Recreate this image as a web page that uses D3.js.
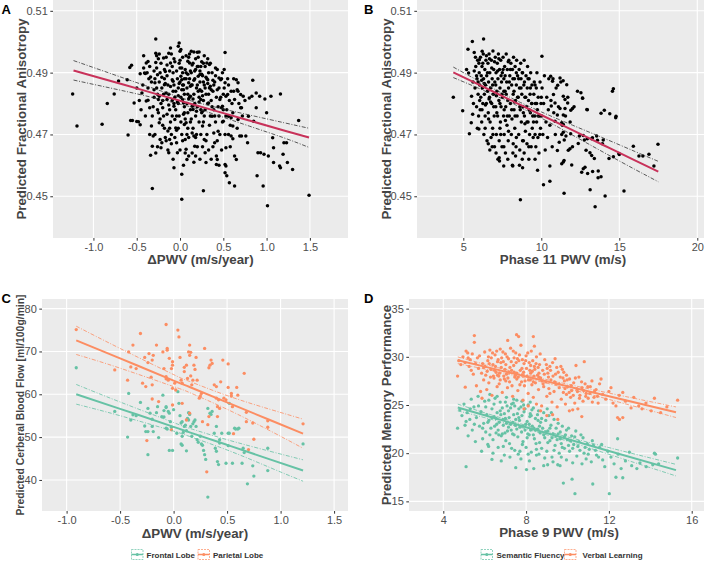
<!DOCTYPE html>
<html><head><meta charset="utf-8">
<script src="https://cdn.jsdelivr.net/npm/d3@7"></script>
<style>body{margin:0;background:#fff;}svg{display:block;}</style>
</head><body>
<svg id="chart" width="712" height="561"></svg>
<script>
// ---------------- DATA ----------------
// Panel A: ΔPWV (m/s/year) vs predicted FA
const pointsA = [[-1.24,.4831],[-1.19,.4727],[-0.90,.4733],[-0.84,.4800],[-0.76,.4831],[-0.71,.4873],[-0.60,.4698],[-0.58,.4917],[-0.56,.4924],[-0.61,.4877],[-0.53,.4802],[-0.55,.4745],[-0.50,.4742],[-0.48,.4741],[-0.46,.4896],[-0.42,.4915],[-0.44,.4834],[-0.42,.4955],[-0.57,.4745],[-0.46,.4731],[-0.41,.4899],[-0.40,.4897],[-0.39,.4931],[-0.37,.4936],[-0.36,.4880],[-0.34,.4886],[-0.37,.4811],[-0.39,.4808],[-0.35,.4786],[-0.33,.4727],[-0.34,.4633],[-0.32,.4525],[-0.31,.4695],[-0.32,.4662],[-0.30,.4845],[-0.29,.4867],[-0.28,.4933],[-0.28,.4963],[-0.28,.5009],[-0.27,.4915],[-0.26,.4893],[-0.25,.4813],[-0.24,.4824],[-0.25,.4770],[-0.24,.4738],[-0.23,.4684],[-0.22,.4657],[-0.21,.4673],[-0.20,.4786],[-0.19,.4947],[-0.18,.4910],[-0.17,.4904],[-0.18,.4861],[-0.16,.4834],[-0.15,.4813],[-0.15,.4765],[-0.14,.4711],[-0.13,.4641],[-0.12,.4684],[-0.11,.4980],[-0.13,.4963],[-0.11,.4931],[-0.09,.4877],[-0.08,.4872],[-0.08,.4840],[-0.07,.4791],[-0.07,.4800],[-0.06,.4748],[-0.05,.4721],[-0.04,.4714],[-0.07,.4592],[-0.04,.4673],[-0.03,.4641],[-0.02,.4985],[-0.01,.4996],[0.00,.4969],[0.00,.4915],[0.01,.4888],[0.02,.4877],[0.02,.4845],[0.03,.4813],[0.04,.4802],[0.04,.4765],[0.05,.4732],[0.07,.4738],[0.02,.4571],[0.02,.4490],[0.06,.4684],[0.07,.4652],[0.08,.4619],[0.09,.4937],[0.11,.4931],[0.10,.4867],[0.12,.4856],[0.12,.4824],[0.14,.4791],[0.15,.4781],[0.14,.4705],[0.16,.4695],[0.17,.4662],[0.18,.4630],[0.13,.4969],[0.16,.4967],[0.20,.4966],[0.22,.4967],[0.20,.4920],[0.21,.4888],[0.23,.4894],[0.21,.4840],[0.24,.4813],[0.25,.4770],[0.26,.4775],[0.27,.4518],[0.26,.4727],[0.28,.4684],[0.29,.4641],[0.30,.4609],[0.31,.4931],[0.34,.4926],[0.32,.4877],[0.35,.4856],[0.36,.4845],[0.33,.4802],[0.37,.4759],[0.39,.4705],[0.40,.4673],[0.42,.4630],[0.43,.4619],[0.42,.4603],[0.41,.4915],[0.43,.4910],[0.45,.4883],[0.47,.4877],[0.46,.4813],[0.48,.4786],[0.49,.4791],[0.52,.4965],[0.51,.4910],[0.52,.4867],[0.53,.4824],[0.55,.4829],[0.50,.4743],[0.52,.4700],[0.53,.4657],[0.52,.4603],[0.53,.4598],[0.52,.4576],[0.54,.4566],[0.57,.4544],[0.63,.4533],[0.56,.4759],[0.59,.4754],[0.61,.4727],[0.59,.4695],[0.61,.4686],[0.63,.4630],[0.65,.4619],[0.65,.4877],[0.67,.4867],[0.66,.4845],[0.67,.4840],[0.63,.4813],[0.70,.4829],[0.73,.4824],[0.70,.4786],[0.71,.4786],[0.67,.4748],[0.69,.4695],[0.71,.4695],[0.76,.4695],[0.78,.4673],[0.80,.4818],[0.83,.4824],[0.79,.4759],[0.84,.4875],[0.85,.4743],[0.88,.4786],[0.88,.4834],[0.92,.4824],[0.98,.4815],[0.90,.4641],[0.93,.4641],[0.97,.4636],[0.89,.4566],[0.96,.4533],[1.00,.4770],[1.02,.4630],[1.01,.4469],[1.05,.4824],[1.07,.4689],[1.08,.4657],[1.08,.4609],[1.15,.4598],[1.16,.4592],[1.16,.4831],[1.19,.4636],[1.20,.4673],[1.24,.4609],[1.30,.4587],[1.37,.4745],[1.49,.4503],[1.23,.4673],
[-0.30,.4905],[-0.29,.4880],[-0.27,.4850],[-0.26,.4830],[-0.24,.4870],[-0.23,.4900],[-0.22,.4930],[-0.21,.4850],[-0.20,.4810],[-0.19,.4760],[-0.18,.4720],[-0.17,.4690],[-0.16,.4950],[-0.15,.4890],[-0.14,.4860],[-0.13,.4830],[-0.12,.4780],[-0.11,.4740],[-0.10,.4700],[-0.10,.4960],[-0.09,.4920],[-0.08,.4900],[-0.07,.4860],[-0.06,.4820],[-0.05,.4780],[-0.04,.4760],[-0.03,.4880],[-0.02,.4850],[-0.02,.4800],[-0.01,.4760],[-0.01,.4930],[0.00,.4870],[0.01,.4820],[0.01,.4740],[0.02,.4700],[0.03,.4950],[0.03,.4900],[0.04,.4860],[0.05,.4830],[0.05,.4790],[0.06,.4750],[0.06,.4910],[0.07,.4880],[0.08,.4850],[0.08,.4800],[0.09,.4770],[0.09,.4720],[0.10,.4950],[0.10,.4690],[0.11,.4820],[0.12,.4780],[0.13,.4900],[0.13,.4750],[0.14,.4860],[0.15,.4930],[0.15,.4720],[0.16,.4830],[0.17,.4800],[0.17,.4880],[0.18,.4760],[0.18,.4910],[0.19,.4850],[0.19,.4700],[0.20,.4790],[0.21,.4950],[0.22,.4820],[0.22,.4740],[0.23,.4870],[0.24,.4780],[0.24,.4920],[0.25,.4840],[0.26,.4890],[0.27,.4810],[0.27,.4740],[0.28,.4860],[0.29,.4920],[0.29,.4780],[0.30,.4830],[0.31,.4700],[0.32,.4800],[0.33,.4900],[0.34,.4850],[0.35,.4760],[0.36,.4810],[0.37,.4900],[0.38,.4840],[0.39,.4780],[0.40,.4870],[0.41,.4740],[0.42,.4820],[0.44,.4790],[0.45,.4850],[0.46,.4700],[0.48,.4880],[0.49,.4740],[0.50,.4830],[0.54,.4780],[0.56,.4860],[0.58,.4730],[0.60,.4800],[0.62,.4880],[-0.37,.4850],[-0.35,.4920],[-0.33,.4870],[-0.32,.4760],[-0.31,.4790],[-0.29,.4700],[-0.28,.4640],[-0.26,.4660],[-0.24,.4960],[-0.22,.4800],[-0.14,.4650],[-0.08,.4620],[0.00,.4650],[0.04,.4600],[0.10,.4630],[0.14,.4640],[0.20,.4660],[0.23,.4620],[0.33,.4650],[0.36,.4620],[0.43,.4680],[0.45,.4600],
[-0.12,.4905],[-0.06,.4935],[-0.04,.4905],[0.00,.4940],[0.02,.4915],[0.05,.4880],[0.07,.4955],[0.09,.4895],[0.11,.4880],[0.12,.4905],[0.14,.4925],[0.16,.4875],[0.18,.4945],[0.20,.4860],[0.23,.4905],[0.25,.4935],[0.27,.4870],[0.28,.4955],[0.30,.4885],[0.32,.4945],[-0.02,.4825],[0.04,.4845],[0.10,.4815],[0.16,.4795],[0.22,.4805],[0.26,.4825],[0.32,.4865],[0.38,.4875],[-0.09,.4810],[-0.18,.4880],
[-0.27,.4955],[-0.25,.4945],[-0.21,.4885],[-0.19,.4830],[-0.17,.4865],[-0.15,.4925],[-0.13,.4795],[-0.11,.4855],[-0.09,.4760],[-0.07,.4945],[-0.05,.4840],[-0.03,.4805],[-0.01,.4865],[0.01,.4975],[0.03,.4860],[0.05,.4770],[0.07,.4900],[0.09,.4830],[0.11,.4960],[0.13,.4860],[0.15,.4815],[0.17,.4905],[0.19,.4775],[0.21,.4920],[0.23,.4845],[0.25,.4895],[0.27,.4930],[0.29,.4850],[0.31,.4880],[0.33,.4830],[0.35,.4930],[0.37,.4790],[0.39,.4860],[0.41,.4890],[0.43,.4845],[0.45,.4760],[0.47,.4820],[0.49,.4900],[0.51,.4850],[0.53,.4760],[0.55,.4880],[0.57,.4810],[0.59,.4840],[0.61,.4770],[-0.20,.4730],[-0.16,.4680],[-0.12,.4720],[-0.06,.4690],[-0.02,.4720],[0.03,.4680],[0.08,.4700],[0.12,.4740],[0.18,.4690],[0.24,.4700],[0.28,.4760],[0.34,.4730],[0.40,.4760],[0.44,.4710],[0.50,.4780],[0.56,.4700],[-0.35,.4700],[-0.30,.4820],[-0.26,.4780],[-0.23,.4750],[-0.10,.4670],[0.06,.4640],[0.16,.4610],[0.26,.4660],[0.30,.4680],[0.38,.4660],[0.48,.4650],[0.58,.4660],[0.66,.4720],[0.72,.4760],[0.75,.4810],[0.68,.4800],[0.62,.4840],[-0.45,.4780],[-0.43,.4860],[-0.40,.4760],[-0.38,.4900],[-0.50,.4850],[-0.47,.4810]];
const fitXA  = [-1.23, -0.8, -0.4, 0.0, 0.15, 0.4, 0.8, 1.2, 1.49];
const fitA   = [0.4907, 0.4873, 0.4841, 0.4809, 0.4797, 0.4777, 0.4745, 0.4713, 0.4690];
const upperA = [0.4939, 0.4897, 0.4858, 0.4820, 0.4807, 0.4789, 0.4763, 0.4738, 0.4720];
const lowerA = [0.4876, 0.4850, 0.4825, 0.4798, 0.4787, 0.4765, 0.4727, 0.4689, 0.4658];

// Panel B: Phase 11 PWV (m/s) vs predicted FA
const pointsB = [[4.36,.4820],[4.96,.4777],[5.39,.4702],[5.30,.4976],[5.58,.5001],[6.30,.5009],[5.51,.4738],[5.60,.4765],[5.53,.4824],[5.21,.4910],[5.34,.4899],[6.00,.4718],[6.21,.4969],[6.03,.4942],[7.32,.4614],[7.30,.4625],[7.59,.4598],[8.17,.4598],[8.66,.4489],[8.80,.4592],[9.76,.4584],[10.14,.4537],[10.04,.4953],[10.55,.4549],[10.55,.4598],[11.46,.4510],[12.32,.4840],[12.64,.4818],[12.92,.4781],[13.13,.4521],[13.45,.4466],[13.64,.4560],[13.83,.4563],[14.09,.4501],[14.39,.4767],[14.56,.4840],[14.77,.4754],[14.98,.4638],[15.30,.4517],[15.90,.4662],[16.26,.4630],[16.51,.4630],[16.90,.4636],[17.22,.4598],[17.48,.4668],[13.28,.4689],[13.60,.4681],[13.92,.4670],[14.34,.4622],
[12.59,.4578],[12.69,.4589],[12.80,.4594],[12.97,.4574],[13.29,.4580],[13.65,.4582],[11.31,.4605],[11.41,.4611],[11.46,.4616],[11.95,.4601],[11.03,.4648],[11.73,.4649],[11.84,.4654],[12.87,.4649],[13.12,.4641],[13.23,.4632],[13.40,.4622],[14.62,.4628],[15.00,.4635],[11.15,.4675],[11.47,.4682],[11.58,.4695],[11.31,.4700],[11.41,.4707],[11.88,.4702],[12.37,.4671],[12.44,.4695],[12.69,.4697],[12.76,.4682],[12.95,.4686],[13.23,.4686],[13.55,.4695],[13.97,.4682],[10.88,.4743],[11.31,.4738],[11.41,.4732],
[10.60,.4888],[10.72,.4872],[11.20,.4883],[11.40,.4874],[11.05,.4859],[11.63,.4861],[10.78,.4829],[11.41,.4824],[11.52,.4813],[10.88,.4802],[10.64,.4792],[11.69,.4802],[11.20,.4784],[11.52,.4784],[12.00,.4784],[11.89,.4778],[12.95,.4780],[12.54,.4835],[12.65,.4817],[13.83,.4769],[14.04,.4778],[14.62,.4848],[14.79,.4759],[11.41,.4763],[11.03,.4763],
[5.62,.4870],[5.70,.4905],[5.75,.4850],[5.80,.4920],[5.85,.4790],[5.88,.4880],[5.92,.4940],[5.95,.4830],[5.98,.4760],[5.65,.4800],[5.78,.4950],[5.90,.4720],
[6.02,.4900],[6.05,.4860],[6.08,.4780],[6.10,.4950],[6.12,.4820],[6.15,.4890],[6.18,.4740],[6.20,.4920],[6.22,.4850],[6.25,.4800],[6.28,.4960],[6.30,.4880],[6.32,.4700],[6.35,.4830],[6.38,.4910],[6.40,.4760],[6.42,.4860],[6.45,.4940],[6.48,.4800],[6.50,.4890],
[6.52,.4680],[6.55,.4840],[6.58,.4930],[6.60,.4770],[6.62,.4870],[6.65,.4960],[6.68,.4820],[6.70,.4900],[6.72,.4740],[6.75,.4850],[6.78,.4690],[6.80,.4940],[6.82,.4800],[6.85,.4880],[6.88,.4720],[6.90,.4970],[6.92,.4830],[6.95,.4910],[6.98,.4760],[6.60,.4670],[6.70,.4650],[6.85,.4660],
[7.02,.4870],[7.05,.4950],[7.08,.4790],[7.10,.4900],[7.12,.4700],[7.15,.4840],[7.18,.4930],[7.20,.4760],[7.22,.4880],[7.25,.4960],[7.28,.4810],[7.30,.4680],[7.32,.4910],[7.35,.4850],[7.38,.4740],[7.40,.4940],[7.42,.4790],[7.45,.4870],[7.48,.4660],[7.50,.4900],[7.10,.4640],[7.22,.4620],[7.35,.4720],
[7.52,.4820],[7.55,.4950],[7.58,.4760],[7.60,.4880],[7.62,.4700],[7.65,.4920],[7.68,.4840],[7.70,.4640],[7.72,.4790],[7.75,.4960],[7.78,.4870],[7.80,.4730],[7.82,.4910],[7.85,.4810],[7.88,.4680],[7.90,.4850],[7.92,.4940],[7.95,.4760],[7.98,.4890],[7.60,.4840],[7.85,.4620],
[8.02,.4800],[8.05,.4930],[8.08,.4700],[8.10,.4860],[8.12,.4750],[8.15,.4910],[8.18,.4640],[8.20,.4830],[8.22,.4950],[8.25,.4780],[8.28,.4880],[8.30,.4720],[8.32,.4920],[8.35,.4810],[8.38,.4660],[8.40,.4860],[8.42,.4940],[8.45,.4760],[8.48,.4890],[8.15,.4600],[8.35,.4630],
[8.52,.4820],[8.55,.4700],[8.58,.4910],[8.60,.4850],[8.62,.4650],[8.65,.4780],[8.68,.4930],[8.70,.4880],[8.72,.4740],[8.75,.4830],[8.78,.4620],[8.80,.4900],[8.82,.4790],[8.85,.4680],[8.88,.4860],[8.90,.4940],[8.92,.4760],[8.95,.4820],[8.98,.4710],[8.60,.4600],[8.90,.4640],
[9.02,.4890],[9.05,.4790],[9.08,.4670],[9.10,.4850],[9.12,.4920],[9.15,.4740],[9.18,.4810],[9.20,.4620],[9.22,.4880],[9.25,.4700],[9.28,.4830],[9.30,.4770],[9.32,.4900],[9.35,.4660],[9.38,.4800],[9.40,.4860],[9.42,.4720],[9.45,.4760],[9.48,.4690],
[9.52,.4830],[9.55,.4870],[9.58,.4760],[9.60,.4700],[9.62,.4800],[9.65,.4660],[9.68,.4850],[9.70,.4740],[9.72,.4900],[9.75,.4780],[9.78,.4690],[9.80,.4820],[9.85,.4640],[9.88,.4760],[9.92,.4870],[9.95,.4720],[9.98,.4800],
[10.02,.4760],[10.05,.4850],[10.10,.4700],[10.15,.4800],[10.20,.4890],[10.25,.4650],[10.30,.4740],[10.35,.4820],[10.40,.4690],[10.45,.4780],[10.48,.4880],
[10.55,.4730],[10.62,.4810],[10.70,.4660],[10.75,.4880],[10.80,.4770],[10.90,.4700],[10.95,.4850],
[11.10,.4790],[11.25,.4870],[11.35,.4730],[11.55,.4760],[11.70,.4820],[11.85,.4740],[12.00,.4660],[12.10,.4790],
[5.70,.4965],[5.85,.4890],[6.00,.4930],[6.05,.4810],[6.18,.4875],[6.25,.4930],[6.35,.4865],[6.42,.4795],[6.48,.4955],[6.55,.4900],[6.62,.4750],[6.68,.4945],[6.75,.4805],[6.82,.4915],[6.88,.4860],[6.95,.4790],[7.00,.4935],[7.08,.4860],[7.15,.4770],[7.20,.4905],[7.28,.4945],[7.35,.4800],[7.42,.4890],[7.48,.4830],[7.55,.4910],[7.62,.4780],[7.68,.4890],[7.75,.4830],[7.82,.4760],[7.88,.4935],[7.95,.4870],[8.02,.4910],[8.10,.4780],[8.18,.4880],[8.25,.4840],[8.32,.4760],[8.40,.4900],[8.48,.4820],[8.55,.4880],[8.62,.4790],[8.70,.4850],[8.78,.4900],[8.85,.4770],[8.92,.4870],[9.00,.4820],[9.08,.4740],[9.15,.4880],[9.22,.4780],[9.30,.4850],[9.40,.4800],[9.50,.4740],[9.60,.4860],[9.70,.4800],[9.80,.4760],[9.90,.4700],[10.00,.4820],[6.40,.4720],[6.90,.4700],[7.40,.4700],[7.90,.4710],[8.40,.4690],[8.80,.4680],[9.20,.4660],[9.60,.4620],[7.00,.4660],[7.60,.4660],[8.20,.4670],[6.20,.4780],[5.95,.4870],[6.65,.4815],[7.12,.4825],[7.70,.4745],[8.28,.4805],[8.95,.4735]];
const fitXB  = [4.36, 6, 8, 8.6, 10, 12, 14, 16, 17.5];
const fitB   = [.4901, .4861, .4812, .4797, .4763, .4714, .4665, .4616, .4580];
const upperB = [.4918, .4873, .4820, .4805, .4773, .4730, .4688, .4645, .4613];
const lowerB = [.4884, .4849, .4804, .4789, .4753, .4698, .4642, .4587, .4547];

// Panel C: ΔPWV vs predicted cerebral blood flow
const lobeNames = ["Frontal Lobe", "Parietal Lobe"];
const pointsCParietal = [[-0.91,75.1],[-0.55,65.7],[-0.43,63.3],[-0.42,69.9],[-0.40,66.4],[-0.38,71.5],[-0.35,66.0],[-0.29,62.6],[-0.31,74.2],[-0.26,61.8],[-0.27,68.6],[-0.24,67.4],[-0.23,69.5],[-0.21,64.0],[-0.20,62.2],[-0.20,68.0],[-0.19,69.1],[-0.20,58.9],[-0.16,71.5],[-0.14,58.3],[-0.10,69.9],[-0.09,66.0],[-0.07,64.1],[-0.07,63.6],[-0.06,70.7],[-0.07,76.3],[-0.06,70.3],[-0.05,63.3],[-0.04,68.4],[-0.02,66.0],[-0.01,66.8],[-0.01,67.6],[-0.01,57.5],[-0.01,61.4],[0.01,62.6],[0.02,61.0],[0.04,75.0],[0.05,73.4],[0.06,68.6],[0.07,63.3],[0.08,62.6],[0.08,57.9],[0.10,65.3],[0.10,66.3],[0.12,66.8],[0.13,63.7],[0.14,69.9],[0.15,69.1],[0.16,69.8],[0.15,71.5],[0.16,64.3],[0.17,62.2],[0.18,63.3],[0.19,66.8],[0.20,65.8],[0.21,68.6],[0.22,63.3],[0.24,59.1],[0.25,59.6],[0.26,60.2],[0.29,70.7],[0.27,53.6],[0.31,41.9],[0.32,52.9],[0.33,54.8],[0.33,66.2],[0.34,66.8],[0.35,68.0],[0.36,67.2],[0.38,62.2],[0.40,61.8],[0.40,59.1],[0.42,58.7],[0.41,57.1],[0.43,56.7],[0.41,54.8],[0.44,62.9],[0.46,68.0],[0.47,59.1],[0.49,58.7],[0.51,61.6],[0.51,67.1],[0.54,60.2],[0.54,59.6],[0.55,57.1],[0.56,50.8],[0.59,61.6],[0.60,59.8],[0.68,55.8],[0.68,53.6],[0.66,64.9],[0.70,47.1],[0.74,53.3],[0.75,49.5],[0.88,53.8],[0.88,52.3],[1.21,53.1],[-0.25,49.2],[-0.02,51.7],[0.12,54.0],[0.15,55.6]];
const pointsCFrontal = [[-0.91,66.2],[-0.55,56.0],[-0.43,50.0],[-0.42,60.2],[-0.40,54.0],[-0.38,55.2],[-0.35,55.0],[-0.31,58.1],[-0.27,52.6],[-0.26,51.3],[-0.24,51.3],[-0.24,45.9],[-0.24,56.7],[-0.22,55.6],[-0.20,54.2],[-0.20,52.5],[-0.19,51.3],[-0.16,55.7],[-0.15,57.1],[-0.14,49.9],[-0.11,54.8],[-0.10,59.8],[-0.09,56.2],[-0.09,54.7],[-0.07,57.1],[-0.07,56.9],[-0.07,52.1],[-0.06,51.9],[-0.05,56.0],[-0.04,55.6],[-0.04,46.9],[-0.01,46.9],[-0.03,53.6],[-0.02,52.3],[0.00,56.4],[0.03,50.9],[0.04,60.6],[0.05,57.9],[0.06,55.0],[0.07,53.3],[0.08,53.6],[0.07,48.4],[0.08,48.1],[0.08,50.2],[0.09,51.1],[0.10,52.5],[0.11,52.8],[0.12,51.5],[0.12,46.8],[0.13,54.4],[0.14,54.0],[0.14,55.7],[0.15,55.3],[0.16,52.5],[0.17,50.2],[0.18,53.1],[0.19,53.6],[0.20,54.0],[0.21,52.5],[0.22,49.4],[0.23,48.8],[0.25,50.2],[0.26,48.4],[0.27,48.1],[0.28,46.9],[0.29,45.9],[0.30,44.8],[0.32,56.7],[0.32,36.0],[0.34,55.6],[0.35,55.3],[0.36,56.0],[0.38,50.9],[0.39,47.4],[0.40,46.7],[0.41,44.3],[0.42,43.6],[0.40,52.5],[0.43,48.6],[0.43,49.4],[0.45,50.9],[0.49,43.9],[0.51,50.9],[0.52,50.9],[0.51,48.0],[0.52,57.9],[0.55,43.9],[0.57,52.1],[0.58,51.9],[0.60,51.9],[0.61,52.1],[0.64,43.9],[0.65,47.4],[0.66,46.4],[0.69,39.1],[0.74,43.3],[0.75,40.9],[0.88,42.2],[0.88,47.4],[1.21,48.4]];
const fitXC = [-0.91, -0.5, 0, 0.15, 0.5, 0.9, 1.21];
const fitCParietal   = [72.6, 68.4, 63.2, 61.7, 58.1, 54.0, 50.8];
const upperCParietal = [75.9, 70.7, 64.6, 63.0, 59.7, 56.5, 54.2];
const lowerCParietal = [69.3, 66.1, 61.8, 60.4, 56.5, 51.5, 47.4];
const fitCFrontal    = [60.0, 56.6, 52.4, 51.1, 48.2, 44.8, 42.2];
const upperCFrontal  = [62.3, 58.2, 53.4, 52.05, 49.4, 46.7, 44.7];
const lowerCFrontal  = [57.7, 55.0, 51.4, 50.15, 47.0, 42.9, 39.7];

// Panel D: Phase 9 PWV vs predicted memory performance
const memoryNames = ["Semantic Fluency", "Verbal Learning"];
const pointsDVerbal = [[4.69,28.0],[5.10,30.6],[5.18,30.4],[5.06,26.85],[5.50,32.2],[5.50,31.5],[5.87,25.7],[7.54,32.3],[7.64,32.1],[8.35,32.1],[7.11,31.7],[8.40,31.1],[9.28,24.0],[9.53,23.5],[10.09,24.4],[10.25,24.5],[10.69,23.8],[10.41,29.1],[10.81,29.5],[12.10,26.8],[11.62,27.7],[12.34,24.9],[12.42,23.7],[12.51,23.5],[12.67,23.7],[12.67,26.3],[13.07,24.7],[13.44,24.9],[13.79,25.2],[14.04,24.4],[14.20,25.7],[15.32,25.5],
[4.75,29.6],[4.85,29.2],[4.95,30.0],[5.05,29.4],[5.25,29.0],[5.30,29.7],[5.35,28.6],[5.45,28.2],[5.60,27.0],[5.65,29.9],[5.70,28.8],[5.80,26.4],[5.90,29.3],[5.95,27.6],[6.00,30.5],[6.05,28.1],[6.10,26.6],[6.15,29.6],[6.20,27.3],[6.25,30.7],[6.30,28.7],[6.35,26.0],[6.40,29.2],[6.45,27.8],[6.50,30.2],[6.55,28.4],[6.60,26.9],[6.65,29.7],[6.70,27.2],[6.75,30.8],[6.80,28.9],[6.85,26.3],[6.90,29.5],[6.95,27.7],[7.00,30.3],[7.05,28.2],[7.10,26.8],[7.15,29.8],[7.20,27.4],[7.25,30.9],[7.30,28.6],[7.35,25.9],[7.40,29.1],[7.45,27.9],[7.50,30.4],[7.55,28.3],[7.60,26.5],[7.65,29.6],[7.70,27.1],[7.75,31.2],[7.80,28.8],[7.85,25.5],[7.90,29.3],[7.95,27.5],[8.00,30.1],[8.05,28.0],[8.10,26.2],[8.15,29.4],[8.20,27.6],[8.25,30.6],[8.30,28.5],[8.35,25.8],[8.40,29.0],[8.45,27.3],[8.50,30.0],[8.55,28.1],[8.60,26.6],[8.65,29.2],[8.70,27.8],[8.75,24.9],[8.80,28.6],[8.85,26.9],[8.90,29.7],[8.95,27.4],[9.00,25.9],[9.05,28.3],[9.10,26.7],[9.15,29.0],[9.20,27.6],[9.25,25.3],[9.30,28.0],[9.35,26.4],[9.40,29.8],[9.45,27.2],[9.50,24.8],[9.55,28.4],[9.60,26.8],[9.65,27.9],[9.70,25.6],[9.75,28.7],[9.80,26.3],[9.85,27.5],[9.90,25.1],[9.95,28.1],[10.00,26.9],[10.10,27.7],[10.15,25.8],[10.20,26.5],[10.30,27.3],[10.35,25.2],[10.45,26.7],[10.50,24.6],[10.55,27.9],[10.60,26.0],[10.70,26.8],[10.75,25.4],[10.85,27.2],[10.90,26.2],[11.00,25.7],[11.10,26.9],[11.20,25.3],[11.30,26.4],[11.45,25.9],[11.55,27.2],[11.70,26.1],[11.85,25.6],[12.00,26.4],[12.20,25.2],[12.50,26.0],[12.80,25.4],[13.20,25.8],[13.60,24.6],[14.50,24.2],[14.80,24.8],
[6.12,28.5],[6.32,29.9],[6.52,29.0],[6.72,28.3],[6.92,28.0],[7.02,29.2],[7.22,28.9],[7.42,28.4],[7.62,27.9],[7.82,29.7],[8.02,28.8],[8.22,28.3],[8.42,28.7],[8.62,27.9],[8.82,27.2],[7.12,27.8],[7.32,27.0],[7.52,29.4],[7.72,28.6],[7.92,27.0],[6.42,28.0],[6.62,28.1],[6.82,29.9],[8.12,27.6],[8.32,29.6],[7.90,24.6],[8.10,24.9],[8.50,25.1],[9.00,23.9],[8.70,24.4],
[5.20,29.9],[5.40,30.3],[5.55,29.3],[5.75,30.1],[5.85,28.3],[6.02,29.0],[6.18,30.0],[6.28,27.9],[6.38,30.4],[6.48,28.6],[6.58,30.6],[6.68,28.0],[6.78,29.4],[6.88,30.5],[6.98,28.7],[7.08,30.0],[7.18,28.4],[7.28,29.5],[7.38,30.6],[7.48,28.1],[7.58,29.8],[7.68,30.2],[7.78,27.4],[7.88,28.4],[7.98,29.6],[8.08,30.4],[8.18,28.6],[8.28,27.1],[8.38,28.0],[8.48,29.3],[8.58,28.9],[8.68,30.3],[8.78,27.5],[8.88,28.2],[8.98,29.2],[9.08,27.9],[9.18,28.6],[9.28,29.4],[9.38,27.4],[9.48,28.9],[9.58,27.2],[9.68,29.0],[9.78,27.8],[9.88,26.7],[9.98,27.6],[10.08,26.3],[10.18,27.0],[10.28,26.0],[10.38,27.8],[10.48,26.4],[10.58,25.7],[10.68,27.4],[10.78,26.5],[10.88,25.9],[10.98,26.9],[11.08,26.2],[11.18,27.5],[11.28,25.8],[11.38,26.6],[11.48,25.2],[6.22,29.3],[6.62,29.5],[7.02,27.5],[7.42,29.9],[7.82,28.1],[8.22,29.1],[8.62,28.3],[9.02,28.8],[9.42,28.2],[9.82,28.4],[5.95,28.9],[6.75,27.6],[7.55,27.7],[8.35,27.4],[9.15,26.2],[9.95,26.1]];
const pointsDSemantic = [[4.69,22.6],[5.10,18.6],[5.85,20.2],[6.19,20.7],[6.35,19.35],[9.80,16.9],[10.36,15.8],[11.22,16.8],[12.02,15.8],[10.22,17.3],[9.53,18.8],[9.64,18.7],[8.85,18.7],[9.04,18.8],[8.37,18.4],[8.16,19.2],[12.34,17.5],[12.67,17.45],[12.59,18.4],[13.35,18.4],[14.12,18.8],[14.20,20.0],[14.25,19.9],[15.32,19.5],[12.42,21.5],[12.99,20.1],
[4.80,24.5],[4.90,23.9],[5.00,25.1],[5.05,22.9],[5.15,24.2],[5.20,21.8],[5.28,23.5],[5.35,25.6],[5.40,22.4],[5.48,24.8],[5.55,21.2],[5.60,23.7],[5.68,25.9],[5.75,22.8],[5.82,24.3],[5.90,21.5],[5.95,23.1],[6.00,25.4],[6.05,22.2],[6.10,24.0],[6.15,20.9],[6.20,23.4],[6.25,26.1],[6.30,22.6],[6.35,24.6],[6.40,21.4],[6.45,23.8],[6.50,25.7],[6.55,22.1],[6.60,24.2],[6.65,20.6],[6.70,23.2],[6.75,25.3],[6.80,21.8],[6.85,24.7],[6.90,22.9],[6.95,19.8],[7.00,23.6],[7.05,25.8],[7.10,22.3],[7.15,24.4],[7.20,21.0],[7.25,23.0],[7.30,25.1],[7.35,22.0],[7.40,24.0],[7.45,20.3],[7.50,23.5],[7.55,25.5],[7.60,21.7],[7.65,24.6],[7.70,22.7],[7.75,19.4],[7.80,23.9],[7.85,21.2],[7.90,24.3],[7.95,22.4],[8.00,20.6],[8.05,23.3],[8.10,25.0],[8.15,21.9],[8.20,24.1],[8.25,20.1],[8.30,22.8],[8.35,24.7],[8.40,21.5],[8.45,23.6],[8.50,19.8],[8.55,22.5],[8.60,24.4],[8.65,21.1],[8.70,23.2],[8.75,20.5],[8.80,22.6],[8.85,24.2],[8.90,21.6],[8.95,23.4],[9.00,20.2],[9.05,22.3],[9.10,23.9],[9.15,21.3],[9.20,22.9],[9.25,19.6],[9.30,22.0],[9.35,23.5],[9.40,20.8],[9.45,22.6],[9.50,21.4],[9.55,23.1],[9.60,20.0],[9.65,22.2],[9.70,21.0],[9.75,22.8],[9.85,20.5],[9.90,21.9],[9.95,19.3],[10.00,21.4],[10.05,22.6],[10.10,20.2],[10.20,21.8],[10.25,19.0],[10.30,20.9],[10.40,22.3],[10.45,19.7],[10.55,21.2],[10.60,20.3],[10.70,18.9],[10.75,21.6],[10.80,20.0],[10.90,19.4],[10.95,21.0],[11.05,20.4],[11.15,19.1],[11.25,20.8],[11.40,19.8],[11.55,20.6],[11.70,19.3],[11.80,18.6],[11.95,20.2],[12.10,19.6],[12.25,18.9],[12.45,19.9],[12.80,19.2],[13.10,18.7],[13.50,19.0],[13.80,18.6],[14.40,18.9],
[6.58,23.0],[6.78,24.0],[6.98,22.1],[7.08,24.9],[7.18,23.7],[7.28,22.4],[7.38,25.2],[7.48,22.9],[7.58,24.1],[7.68,23.4],[7.78,22.2],[7.88,25.0],[7.98,23.0],[8.08,22.0],[8.18,23.8],[8.28,24.5],[8.38,22.6],[8.48,21.0],[8.58,23.4],[8.68,22.1],[6.88,23.5],[7.02,21.3],[7.42,21.9],[7.82,20.9],[8.22,22.4],[8.62,19.9],[9.02,24.6],[9.22,24.2],[6.48,22.8],[6.68,21.9],[7.22,19.6],[7.62,19.9],[8.02,18.3],[7.50,18.5],[6.80,19.2],
[5.10,23.3],[5.30,24.6],[5.50,23.0],[5.70,24.9],[5.90,22.6],[6.05,24.8],[6.15,23.2],[6.25,21.9],[6.35,23.7],[6.45,25.1],[6.55,23.6],[6.65,22.4],[6.75,24.4],[6.85,22.0],[6.95,24.1],[7.05,23.1],[7.15,22.7],[7.25,24.7],[7.35,23.2],[7.45,24.9],[7.55,22.5],[7.65,23.7],[7.75,24.8],[7.85,22.8],[7.95,24.6],[8.05,21.6],[8.15,23.0],[8.25,23.9],[8.35,21.9],[8.45,22.4],[8.55,24.0],[8.65,22.8],[8.75,23.6],[8.85,21.9],[8.95,22.2],[9.05,21.1],[9.15,22.6],[9.25,21.6],[9.35,20.3],[9.45,21.8],[9.55,22.0],[9.65,21.5],[9.75,20.6],[9.85,21.7],[9.95,22.4],[10.05,20.8],[10.15,21.3],[10.25,20.5],[10.35,21.7],[10.50,20.7],[10.65,21.9],[10.85,20.6],[11.00,19.9],[11.20,21.3],[11.35,20.3],[11.50,19.6],[11.65,20.9],[6.20,25.5],[6.60,25.9],[7.00,25.3],[7.40,25.6],[7.80,25.4],[8.20,25.3],[6.40,20.0],[6.90,20.7],[7.30,20.5],[7.70,20.2],[8.10,19.9],[8.50,20.4],[8.90,19.5],[9.30,19.1],[9.70,19.6]];
const fitXD = [4.7, 6, 8, 10, 12, 15.24];
const fitDVerbal     = [29.64, 28.98, 27.96, 26.94, 25.91, 24.25];
const upperDVerbal   = [29.99, 29.23, 28.14, 27.16, 26.24, 24.80];
const lowerDVerbal   = [29.29, 28.73, 27.78, 26.72, 25.58, 23.70];
const fitDSemantic   = [24.74, 23.94, 22.70, 21.47, 20.23, 18.24];
const upperDSemantic = [25.09, 24.19, 22.88, 21.69, 20.58, 18.84];
const lowerDSemantic = [24.39, 23.69, 22.52, 21.25, 19.88, 17.64];

const ticksA_x = [-1.0, -0.5, 0.0, 0.5, 1.0, 1.5];
const ticksFA_y = [0.45, 0.47, 0.49, 0.51];
const ticksB_x = [5, 10, 15, 20];
const ticksC_y = [40, 50, 60, 70, 80];
const ticksD_x = [4, 8, 12, 16];
const ticksD_y = [15, 20, 25, 30, 35];

// ---------------- DRAWING ----------------
const GREEN = "#66C2A5", ORANGE = "#FC8D62", RED = "#C8325A";
const FONT = "'Liberation Sans', Arial, Helvetica, sans-serif";
const svg = d3.select("#chart").attr("font-family", FONT);

function drawPanel(p) {
  const g = svg.append("g");
  const x = d3.scaleLinear().domain(p.xDomain).range([p.left, p.right]);
  const y = d3.scaleLinear().domain(p.yDomain).range([p.bottom, p.top]);
  g.append("rect").attr("x", p.left).attr("y", p.top)
    .attr("width", p.right - p.left).attr("height", p.bottom - p.top).attr("fill", "#EBEBEB");
  g.selectAll(null).data(p.xTicks).enter().append("line")
    .attr("x1", d => x(d)).attr("x2", d => x(d)).attr("y1", p.top).attr("y2", p.bottom)
    .attr("stroke", "#fff").attr("stroke-width", 1.1);
  g.selectAll(null).data(p.yTicks).enter().append("line")
    .attr("y1", d => y(d)).attr("y2", d => y(d)).attr("x1", p.left).attr("x2", p.right)
    .attr("stroke", "#fff").attr("stroke-width", 1.1);

  const cid = "clip" + p.letter;
  svg.append("clipPath").attr("id", cid).append("rect")
    .attr("x", p.left).attr("y", p.top).attr("width", p.right - p.left).attr("height", p.bottom - p.top);
  const plot = g.append("g").attr("clip-path", `url(#${cid})`);

  p.series.forEach(s => {
    plot.append("g").selectAll("circle").data(s.points).enter().append("circle")
      .attr("cx", d => x(d[0])).attr("cy", d => y(d[1])).attr("r", s.r).attr("fill", s.color);
  });
  p.series.forEach(s => {
    const mk = vals => d3.line().curve(d3.curveNatural)
      .x((d, i) => x(s.fitX[i])).y(d => y(d))(vals);
    [s.upper, s.lower].forEach(v => {
      plot.append("path").attr("d", mk(v)).attr("fill", "none")
        .attr("stroke", s.ciColor).attr("stroke-width", 0.8).attr("stroke-dasharray", "4,1.6,1,1.6");
    });
    plot.append("path").attr("d", mk(s.fit)).attr("fill", "none")
      .attr("stroke", s.lineColor).attr("stroke-width", 2);
  });

  const ax = g.append("g").attr("transform", `translate(0,${p.bottom})`)
    .call(d3.axisBottom(x).tickValues(p.xTicks).tickFormat(p.xFmt).tickSize(2.7).tickPadding(2.5));
  const ay = g.append("g").attr("transform", `translate(${p.left},0)`)
    .call(d3.axisLeft(y).tickValues(p.yTicks).tickFormat(p.yFmt).tickSize(2.7).tickPadding(2.5));
  [ax, ay].forEach(a => {
    a.select(".domain").remove();
    a.attr("font-family", FONT).attr("font-size", 11);
    a.selectAll("line").attr("stroke", "#333");
    a.selectAll("text").attr("fill", "#4D4D4D");
  });

  svg.append("text").attr("x", p.xTitleX).attr("y", p.xTitleY).attr("text-anchor", "middle")
    .attr("font-weight", "bold").attr("font-size", 13.3).attr("fill", "#444").text(p.xTitle);
  svg.append("text").attr("transform", `translate(${p.yTitleX},${(p.top + p.bottom) / 2}) rotate(-90)`)
    .attr("text-anchor", "middle").attr("dy", "0.35em")
    .attr("font-weight", "bold").attr("font-size", p.yTitleSize).attr("fill", "#444").text(p.yTitle);
  svg.append("text").attr("x", p.letterX).attr("y", p.letterY)
    .attr("font-weight", "bold").attr("font-size", 13).attr("fill", "#000").text(p.letter);
}

const f1 = d => d.toFixed(1), f2 = d => d.toFixed(2), f0 = d => d.toFixed(0);

drawPanel({letter: "A", letterX: 1.5, letterY: 14, left: 53, right: 348, top: 0, bottom: 238,
  xDomain: [-1.467, 1.940], yDomain: [0.4365, 0.5135], xTicks: ticksA_x, yTicks: ticksFA_y, xFmt: f1, yFmt: f2,
  xTitle: "ΔPWV (m/s/year)", xTitleX: 200.5, xTitleY: 264,
  yTitle: "Predicted Fractional Anisotropy", yTitleX: 21.5, yTitleSize: 13.3,
  series: [{points: pointsA, color: "#000", r: 1.75, fitX: fitXA, fit: fitA, upper: upperA, lower: lowerA, lineColor: RED, ciColor: "#333"}]});

drawPanel({letter: "B", letterX: 364, letterY: 14, left: 417, right: 704, top: 0, bottom: 238,
  xDomain: [2.032, 20.43], yDomain: [0.4365, 0.5135], xTicks: ticksB_x, yTicks: ticksFA_y, xFmt: f0, yFmt: f2,
  xTitle: "Phase 11 PWV (m/s)", xTitleX: 563, xTitleY: 264,
  yTitle: "Predicted Fractional Anisotropy", yTitleX: 386, yTitleSize: 13.3,
  series: [{points: pointsB, color: "#000", r: 1.75, fitX: fitXB, fit: fitB, upper: upperB, lower: lowerB, lineColor: RED, ciColor: "#333"}]});

drawPanel({letter: "C", letterX: 1.5, letterY: 302.5, left: 42, right: 348, top: 299, bottom: 511,
  xDomain: [-1.23, 1.63], yDomain: [32.75, 82.25], xTicks: ticksA_x, yTicks: ticksC_y, xFmt: f1, yFmt: f0,
  xTitle: "ΔPWV (m/s/year)", xTitleX: 195, xTitleY: 538,
  yTitle: "Predicted Cerberal Blood Flow [ml/100g/min]", yTitleX: 20.5, yTitleSize: 10.4,
  series: [
    {points: pointsCFrontal, color: GREEN, r: 1.65, fitX: fitXC, fit: fitCFrontal, upper: upperCFrontal, lower: lowerCFrontal, lineColor: GREEN, ciColor: GREEN},
    {points: pointsCParietal, color: ORANGE, r: 1.65, fitX: fitXC, fit: fitCParietal, upper: upperCParietal, lower: lowerCParietal, lineColor: ORANGE, ciColor: ORANGE}]});

drawPanel({letter: "D", letterX: 364, letterY: 303, left: 409, right: 704, top: 299, bottom: 511,
  xDomain: [2.343, 16.594], yDomain: [14, 36], xTicks: ticksD_x, yTicks: ticksD_y, xFmt: f0, yFmt: f0,
  xTitle: "Phase 9 PWV (m/s)", xTitleX: 559, xTitleY: 537,
  yTitle: "Predicted Memory Performance", yTitleX: 386, yTitleSize: 13.3,
  series: [
    {points: pointsDSemantic, color: GREEN, r: 1.65, fitX: fitXD, fit: fitDSemantic, upper: upperDSemantic, lower: lowerDSemantic, lineColor: GREEN, ciColor: GREEN},
    {points: pointsDVerbal, color: ORANGE, r: 1.65, fitX: fitXD, fit: fitDVerbal, upper: upperDVerbal, lower: lowerDVerbal, lineColor: ORANGE, ciColor: ORANGE}]});

function legend(names, keyXs, textXs, cy) {
  const colors = [GREEN, ORANGE];
  names.forEach((n, i) => {
    const g = svg.append("g");
    const kx = keyXs[i];
    g.append("rect").attr("x", kx).attr("y", cy - 5).attr("width", 11.5).attr("height", 10)
      .attr("fill", "none").attr("stroke", colors[i]).attr("stroke-width", 0.7).attr("stroke-dasharray", "2,1");
    g.append("line").attr("x1", kx).attr("x2", kx + 11.5).attr("y1", cy).attr("y2", cy)
      .attr("stroke", colors[i]).attr("stroke-width", 1.5);
    g.append("circle").attr("cx", kx + 5.75).attr("cy", cy).attr("r", 1.5).attr("fill", colors[i]);
    g.append("text").attr("x", textXs[i]).attr("y", cy + 3).attr("font-size", 8).attr("font-weight", "bold")
      .attr("fill", "#333").text(n);
  });
}
legend(lobeNames, [131.5, 198], [146.5, 213], 554.5);
legend(memoryNames, [481, 564.5], [496.5, 582.5], 554.5);
</script>
</body></html>
